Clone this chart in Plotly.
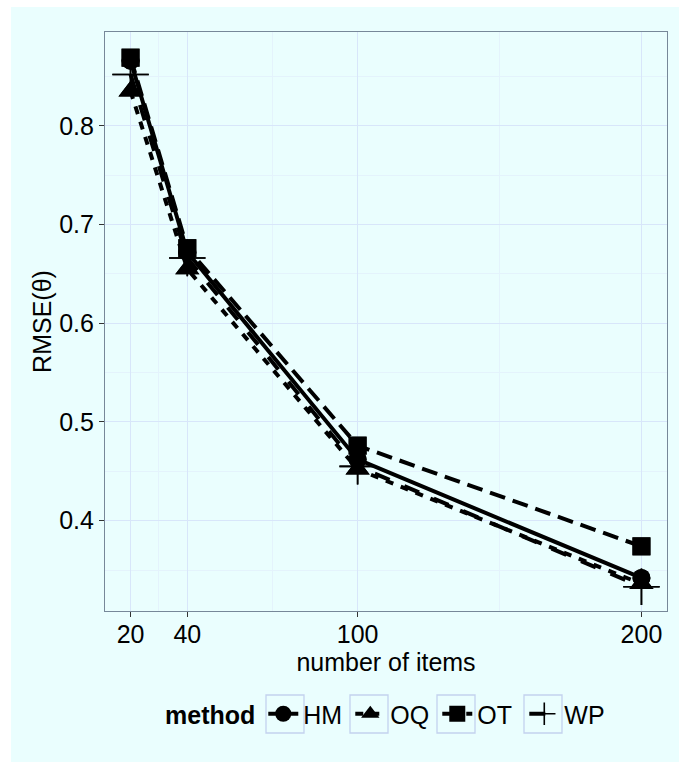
import plotly.graph_objects as go

# ---- data ----
n_items = [20, 40, 100, 200]
methods = ["HM", "OQ", "OT", "WP"]
rmse_HM = [0.866, 0.672, 0.462, 0.342]
rmse_OQ = [0.835, 0.655, 0.452, 0.336]
rmse_OT = [0.869, 0.676, 0.476, 0.374]
rmse_WP = [0.852, 0.666, 0.455, 0.333]
x_ticks = [20, 40, 100, 200]
y_ticks = [0.4, 0.5, 0.6, 0.7, 0.8]
y_tick_labels = ["0.4", "0.5", "0.6", "0.7", "0.8"]

values = {"HM": rmse_HM, "OQ": rmse_OQ, "OT": rmse_OT, "WP": rmse_WP}
symbols = {"HM": "circle", "OQ": "triangle-up", "OT": "square", "WP": "cross-thin"}
msizes = {"HM": 18, "OQ": 21, "OT": 18, "WP": 26}
dashes = {"HM": "solid", "OQ": "8px,8px", "OT": "16px,8px", "WP": "16px,16px"}

BG = "#EAFEFE"
FONT = "Liberation Sans, Arial, Helvetica, sans-serif"
FS = 25

W, H = 679, 762
ML, MR, MT, MB = 105, 12, 32, 151
PW, PH = W - ML - MR, H - MT - MB


def px_x(p):
    return (p - ML) / PW


def px_y(p):
    return (H - MB - p) / PH


fig = go.Figure()
for m in methods:
    fig.add_trace(go.Scatter(
        x=n_items, y=values[m], name=m, mode="lines+markers",
        line=dict(color="black", width=4, dash=dashes[m]),
        marker=dict(symbol=symbols[m], size=msizes[m], color="black",
                    line=dict(color="black", width=1.6 if m == "WP" else 0)),
        legendgroup=m,
    ))
for m in methods:
    fig.add_trace(go.Scatter(
        x=n_items, y=values[m], name=m, mode="markers", showlegend=False,
        marker=dict(symbol=symbols[m], size=msizes[m], color="black",
                    line=dict(color="black", width=1.6 if m == "WP" else 0)),
        legendgroup=m, hoverinfo="skip",
    ))

axis_common = dict(
    showline=True, mirror=True, linecolor="#778899", linewidth=1.2,
    ticks="outside", ticklen=5, tickcolor="#333333", tickwidth=1.2,
    gridcolor="#D8E6FA", gridwidth=1.2, zeroline=False,
    tickfont=dict(size=FS, color="black", family=FONT),
)

shapes = [dict(type="rect", xref="paper", yref="paper", x0=px_x(11), x1=px_x(W + 5),
               y0=px_y(H + 5), y1=px_y(7), fillcolor=BG, line=dict(width=0), layer="below")]
# legend key boxes
for cx in [285, 369, 456, 543]:
    shapes.append(dict(type="rect", xref="paper", yref="paper",
                       x0=px_x(cx - 19), x1=px_x(cx + 19), y0=px_y(733), y1=px_y(695),
                       fillcolor="rgba(0,0,0,0)", line=dict(color="#C3D2EE", width=1.3),
                       layer="above"))

fig.update_layout(
    width=W, height=H,
    margin=dict(l=ML, r=MR, t=MT, b=MB),
    paper_bgcolor="white", plot_bgcolor=BG,
    font=dict(family=FONT, color="black", size=FS),
    xaxis=dict(range=[11, 209], tickvals=x_ticks, ticktext=[str(v) for v in x_ticks],
               title=dict(text="number of items", font=dict(size=FS), standoff=0),
               minor=dict(tickvals=[30, 70, 150], showgrid=True, gridcolor="#E4F3FC", gridwidth=1, ticks=""),
               **axis_common),
    yaxis=dict(range=[0.3085, 0.895], tickvals=y_ticks, ticktext=y_tick_labels,
               title=dict(text="RMSE(θ)", font=dict(size=FS), standoff=0),
               minor=dict(tickvals=[0.35, 0.45, 0.55, 0.65, 0.75, 0.85], showgrid=True,
                          gridcolor="#E4F3FC", gridwidth=1, ticks=""),
               **axis_common),
    legend=dict(orientation="h", x=px_x(163), xanchor="left", y=px_y(714), yanchor="middle",
                bgcolor="rgba(0,0,0,0)", font=dict(size=FS),
                title=dict(text="<b>method</b>", side="left", font=dict(size=FS)),
                itemsizing="trace", tracegroupgap=0, entrywidth=42),
    shapes=shapes,
    showlegend=True,
)
try:
    fig.update_xaxes(ticklabelstandoff=-4)
except Exception:
    pass

fig.write_html("out.html")
